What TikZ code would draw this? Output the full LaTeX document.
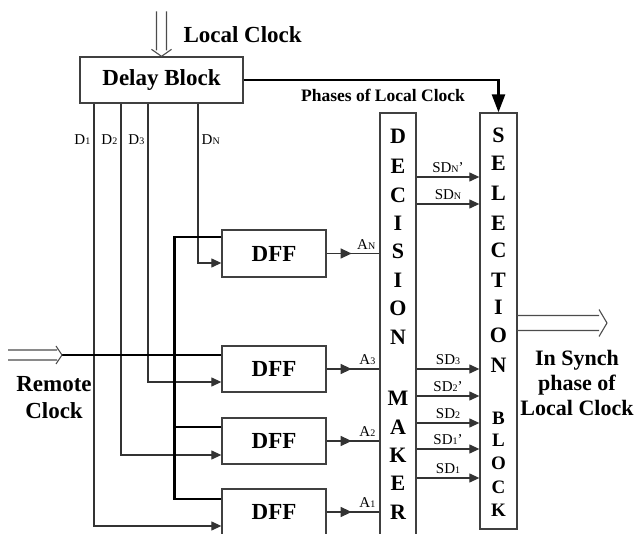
\documentclass[tikz,border=0pt]{standalone}
\usepackage{fontspec}
\setmainfont{Liberation Serif}
\usetikzlibrary{arrows.meta,decorations.markings}

\tikzset{box/.style = {draw=black!75, line width=1.3pt, fill=white, inner sep=0pt}}
\tikzset{wire/.style = {draw=black!80, line width=1.2pt}}
\tikzset{bus/.style = {draw=black, line width=2.6pt}}
\tikzset{tip/.style = {-{Triangle[length=10pt,width=9pt]}}}
\tikzset{hline/.style = {draw=black!70, line width=1.1pt, line join=miter}}
\tikzset{lab/.style = {font=\fontsize{15}{15}\selectfont, inner sep=3.5pt}}
\tikzset{title/.style = {font=\bfseries\fontsize{23}{27}\selectfont, align=center}}
\tikzset{letter/.style = {font=\bfseries\fontsize{22}{22}\selectfont, inner sep=0pt}}
\tikzset{midtip/.style = {postaction=decorate, decoration={markings,
  mark=at position 25pt with {\arrow{Triangle[length=11pt,width=10pt]}}}}}
\newcommand{\lo}[1]{{\fontsize{10}{10}\selectfont #1}}

\begin{document}
\begin{tikzpicture}[x=1pt, y=-1pt]
  \clip (0,0) rectangle (635,534);

  % blocks
  \node[box, title, minimum width=163pt, minimum height=46pt] (delay) at (161.5,80) {Delay Block};
  \node[box, title, minimum width=104pt, minimum height=47pt] (dffN) at (274,253.5) {DFF};
  \node[box, title, minimum width=104pt, minimum height=46pt] (dff3) at (274,369) {DFF};
  \node[box, title, minimum width=104pt, minimum height=46pt] (dff2) at (274,441) {DFF};
  \node[box, title, minimum width=104pt, minimum height=46pt] (dff1) at (274,512) {DFF};
  \node[box, minimum width=36pt, minimum height=430pt] (dm) at (398,328) {};
  \node[box, minimum width=37pt, minimum height=416pt] (sel) at (498.5,321) {};

  \foreach \l/\y in {D/136,E/166,C/195,I/223,S/251,I/280,O/308,N/337,M/398,A/427,K/455,E/483,R/512}
    \node[letter] (dm-\y) at (dm.center |- 0,\y) {\l};
  \foreach \l/\y in {S/135,E/163,L/193,E/223,C/250,T/280,I/307,O/335,N/365}
    \node[letter] (sel-\y) at (sel.center |- 0,\y) {\l};
  \foreach \l/\y in {B/418,L/440,O/463,C/487,K/510}
    \node[letter, font=\bfseries\fontsize{19}{19}\selectfont] (sel-\y) at (sel.center |- 0,\y) {\l};

  % local clock
  \coordinate (lctip) at (delay.north);
  \draw[hline] (lctip) ++(-5,-45) -- ++(0,39) ++(-5,-1) -- (lctip) -- ++(10,-7) ++(-5,1) -- ++(0,-39);
  \node[title, anchor=west] (lclab) at (180,35) {Local Clock};

  \draw[bus, -{Triangle[length=18pt,width=13pt]}] (delay.east) -| (sel.north);
  \node[font=\bfseries\fontsize{17.5}{17.5}\selectfont] (phlab) at (383,95) {Phases of Local Clock};

  % delay taps
  \draw[wire, tip] (delay.south -| 94,0) |- ([yshift=-14pt]dff1.west);
  \draw[wire, tip] (delay.south -| 121,0) |- ([yshift=-14pt]dff2.west);
  \draw[wire, tip] (delay.south -| 148,0) |- ([yshift=-13pt]dff3.west);
  \draw[wire, tip] (delay.south -| 198,0) |- ([yshift=-9.5pt]dffN.west);
  \node[lab, left] (d1lab) at (94,140) {D\lo{1}};
  \node[lab, left] (d2lab) at (121,140) {D\lo{2}};
  \node[lab, left] (d3lab) at (148,140) {D\lo{3}};
  \node[lab, right] (dNlab) at (198,140) {D\lo{N}};

  % remote clock
  \draw[bus] ([yshift=14pt]dff3.west) coordinate (ck3) -- (ck3 -| 62,0) coordinate (rcend);
  \draw[hline] (rcend) ++(-54,-5) -- ++(49,0) ++(-1,-4) -- (rcend) -- ++(-6,9) ++(1,-4) -- ++(-49,0);
  \node[title] (rclab) at (54,398) {Remote\\Clock};
  \draw[bus] ([yshift=16.5pt]dffN.west) -- ++(-47,0) |- ([yshift=13pt]dff1.west);
  \draw[bus] ([yshift=14pt]dff2.west) -- ++(-47,0);

  % flip-flop outputs
  \draw[wire, midtip] (dffN.east) -- (dffN.east -| dm.west) node[lab, above left] (aN) {A\lo{N}};
  \draw[wire, midtip] (dff3.east) -- (dff3.east -| dm.west) node[lab, above left] (a3) {A\lo{3}};
  \draw[wire, midtip] (dff2.east) -- (dff2.east -| dm.west) node[lab, above left] (a2) {A\lo{2}};
  \draw[wire, midtip] (dff1.east) -- (dff1.east -| dm.west) node[lab, above left] (a1) {A\lo{1}};

  % decisions
  \foreach \y/\t in {177/SD\lo{N}', 204/SD\lo{N}, 369/SD\lo{3}, 396/SD\lo{2}', 423/SD\lo{2}, 449/SD\lo{1}', 478/SD\lo{1}}
    \draw[wire, tip] (dm.east |- 0,\y) -- (sel.west |- 0,\y) node[lab, midway, above] (sd\y) {\t};

  % output
  \coordinate (out) at (607,323);
  \draw[hline] (out) ++(-90,-7.5) -- ++(82,0) ++(0,-6) -- (out) -- ++(-8,13.5) ++(0,-6) -- ++(-82,0);
  \node[title, font=\bfseries\fontsize{22}{25}\selectfont] (outlab) at (577,383) {In Synch\\phase of\\Local Clock};
\end{tikzpicture}
\end{document}
